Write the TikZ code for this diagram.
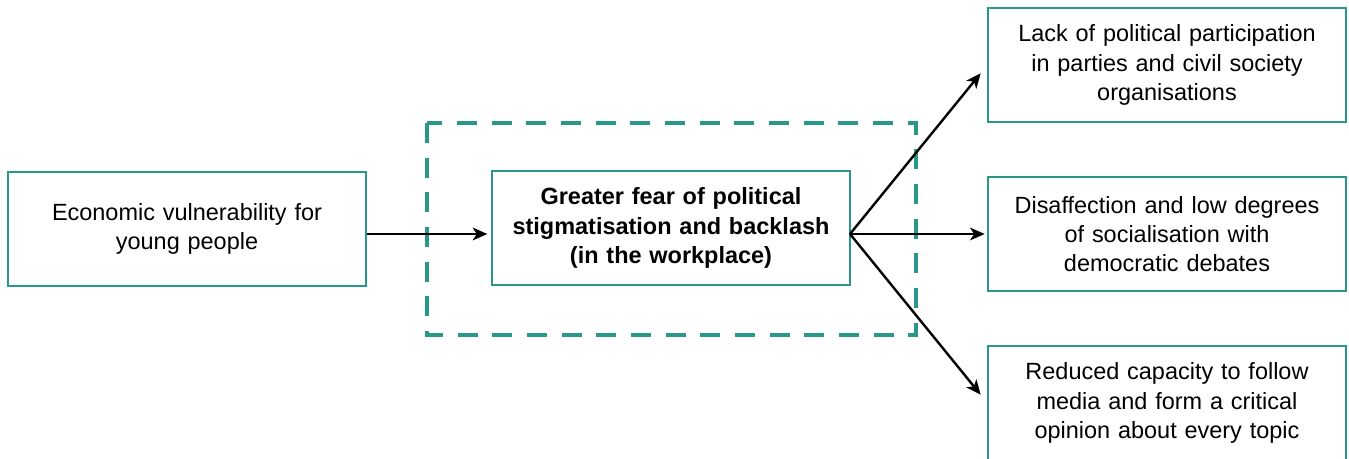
\documentclass[tikz,border=0pt]{standalone}
\usepackage{fontspec}
\setmainfont{Liberation Sans}
\usetikzlibrary{arrows.meta}

\definecolor{tealline}{RGB}{42,152,136}

\tikzset{every picture/.style={line width=0.75pt}}
\tikzset{
box/.style={draw=tealline, line width=1.4pt, minimum width=268pt, minimum height=85pt,
  text width=262pt, align=center, inner sep=0pt,
  font=\fontsize{17.6}{21.8}\selectfont},
flow/.style={line width=1.8pt, -{Stealth[length=11pt,width=9.5pt,inset=3pt]}}}

\begin{document}
\begin{tikzpicture}[x=0.75pt,y=0.75pt,yscale=-1,xscale=1]
%set diagram left start at 0, and has height of 459
\useasboundingbox (0,0) rectangle (1349,459);

%Shape: Dashed Rectangle
\draw [color=tealline, line width=2.3pt, dash pattern=on 15pt off 11pt] (427,123) rectangle (916,335);

% Text Node
\node [box] (econ) at (187,229) {Economic vulnerability for\\young people};
% Text Node
\node [box, font=\fontsize{17.6}{21.8}\selectfont\bfseries] (fear) at (671,228) {Greater fear of political\\stigmatisation and backlash\\(in the workplace)};
% Text Node
\node [box] (lack) at (1167,65) {Lack of political participation\\in parties and civil society\\organisations};
% Text Node
\node [box] (disaff) at (1167,234) {Disaffection and low degrees\\of socialisation with\\democratic debates};
% Text Node
\node [box] (reduced) at (1167,403) {Reduced capacity to follow\\media and form a critical\\opinion about every topic};

%Straight Lines
\coordinate (fan) at (850,234);
\draw [flow, shorten >=3pt] (econ.east |- fan) -- (fear.west |- fan);
\draw [flow, shorten >=8pt] (fan) -- (lack.west);
\draw [flow, shorten >=2pt] (fan) -- (disaff.west);
\draw [flow, shorten >=8pt] (fan) -- (reduced.west);

\end{tikzpicture}
\end{document}
